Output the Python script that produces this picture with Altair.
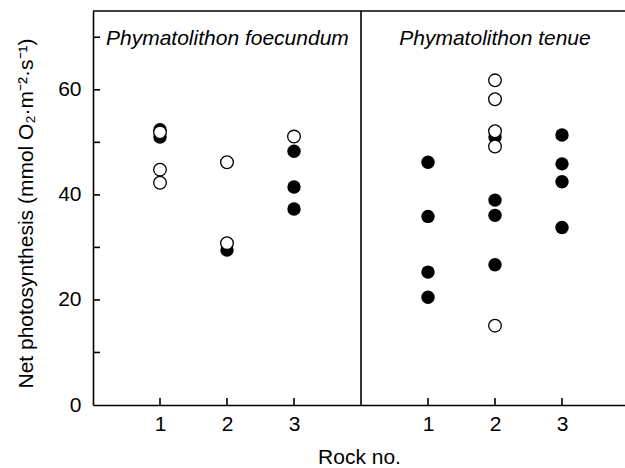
import altair as alt
import pandas as pd

# --- data ---
foec_rock_filled = [1, 1, 2, 3, 3, 3]
foec_val_filled = [52.4, 51.0, 29.5, 48.3, 41.5, 37.3]
foec_rock_open = [1, 1, 1, 2, 2, 3]
foec_val_open = [51.9, 44.8, 42.3, 46.2, 30.8, 51.1]

tenue_rock_filled = [1, 1, 1, 1, 2, 2, 2, 2, 3, 3, 3, 3]
tenue_val_filled = [46.2, 35.9, 25.3, 20.5, 51.0, 39.0, 36.1, 26.7, 51.4, 45.9, 42.5, 33.8]
tenue_rock_open = [2, 2, 2, 2, 2]
tenue_val_open = [61.8, 58.2, 52.1, 49.2, 15.1]

species_names = ["Phymatolithon foecundum", "Phymatolithon tenue"]
rock_ticks = [1, 2, 3]
y_label_values = [0, 20, 40, 60]
y_tick_values = [10, 20, 30, 40, 50, 60, 70]

FONT = "Liberation Sans"


def frame(rocks, vals, panel, kind):
    return pd.DataFrame({"rock": rocks, "value": vals, "panel": panel, "kind": kind})


points = pd.concat([
    frame(foec_rock_filled, foec_val_filled, 0, "filled"),
    frame(foec_rock_open, foec_val_open, 0, "open"),
    frame(tenue_rock_filled, tenue_val_filled, 1, "filled"),
    frame(tenue_rock_open, tenue_val_open, 1, "open"),
], ignore_index=True)

xtick_df = pd.DataFrame({"rock": rock_ticks * 2, "panel": [0] * 3 + [1] * 3})
ytick_df = pd.DataFrame({"value": y_tick_values})

W = 532
H = 394
x_scale = alt.Scale(domain=[0, W / 67.0], nice=False, zero=False)
y_scale = alt.Scale(domain=[0, 75], nice=False)

base = alt.Chart(points).transform_calculate(xpos="datum.rock + 4 * datum.panel")

xenc = alt.X(
    "xpos:Q",
    scale=x_scale,
    title="Rock no.",
    axis=alt.Axis(
        values=[1, 2, 3, 5, 6, 7],
        labelExpr="datum.value > 4 ? datum.value - 4 : datum.value",
        tickSize=0,
        labelPadding=8,
        grid=False,
        domainColor="black",
        domainWidth=1.6,
        labelFontSize=21,
        titleFontSize=21,
        titlePadding=12,
        titleFontWeight="normal",
    ),
)
yenc = alt.Y(
    "value:Q",
    scale=y_scale,
    title="Net photosynthesis (mmol O\u2082\u00b7m\u207b\u00b2\u00b7s\u207b\u00b9)",
    axis=alt.Axis(
        values=y_label_values,
        tickSize=0,
        labelPadding=12,
        grid=False,
        domainColor="black",
        domainWidth=1.6,
        labelFontSize=21,
        titleFontSize=21,
        titlePadding=21,
        titleFontWeight="normal",
        titleY=202,
    ),
)

filled = base.transform_filter("datum.kind == 'filled'").mark_circle(
    size=180, color="black", opacity=1
).encode(x=xenc, y=yenc)

opened = base.transform_filter("datum.kind == 'open'").mark_point(
    shape="circle", size=160, fill="white", stroke="black", strokeWidth=1.3, filled=False, opacity=1
).encode(x="xpos:Q", y="value:Q")

xticks = alt.Chart(xtick_df).transform_calculate(xpos="datum.rock + 4 * datum.panel").mark_rule(
    color="black", strokeWidth=1.6
).encode(x="xpos:Q", y=alt.value(H), y2=alt.value(H - 7))

yticks = alt.Chart(ytick_df).mark_rule(color="black", strokeWidth=1.6).encode(
    y="value:Q", x=alt.value(0), x2=alt.value(7)
)

top_line = alt.Chart(pd.DataFrame({"v": [75]})).mark_rule(color="black", strokeWidth=1.6).encode(
    y=alt.datum(75)
)
divider = alt.Chart(pd.DataFrame({"v": [4]})).mark_rule(color="black", strokeWidth=1.6).encode(
    x=alt.datum(4)
)

lab_df = pd.DataFrame({"name": species_names, "panel": [0, 1]})
label_left = alt.Chart(lab_df).transform_filter("datum.panel == 0").mark_text(
    font=FONT, fontSize=21, fontStyle="italic", align="left", baseline="alphabetic", color="black"
).encode(text="name:N", x=alt.value(13), y=alt.value(34))
label_right = alt.Chart(lab_df).transform_filter("datum.panel == 1").mark_text(
    font=FONT, fontSize=21, fontStyle="italic", align="center", baseline="alphabetic", color="black"
).encode(text="name:N", x=alt.datum(6), y=alt.value(34))

chart = alt.layer(
    filled, opened, xticks, yticks, top_line, divider, label_left, label_right
).properties(
    width=W, height=H,
    autosize=alt.AutoSizeParams(type="none"),
    padding={"left": 93, "top": 11, "right": 0, "bottom": 63},
    background="white",
).configure_view(stroke=None).configure_axis(
    labelFont=FONT, titleFont=FONT, labelColor="black", titleColor="black"
)

chart.save("out.html", embed_options={"renderer": "svg", "actions": False})
